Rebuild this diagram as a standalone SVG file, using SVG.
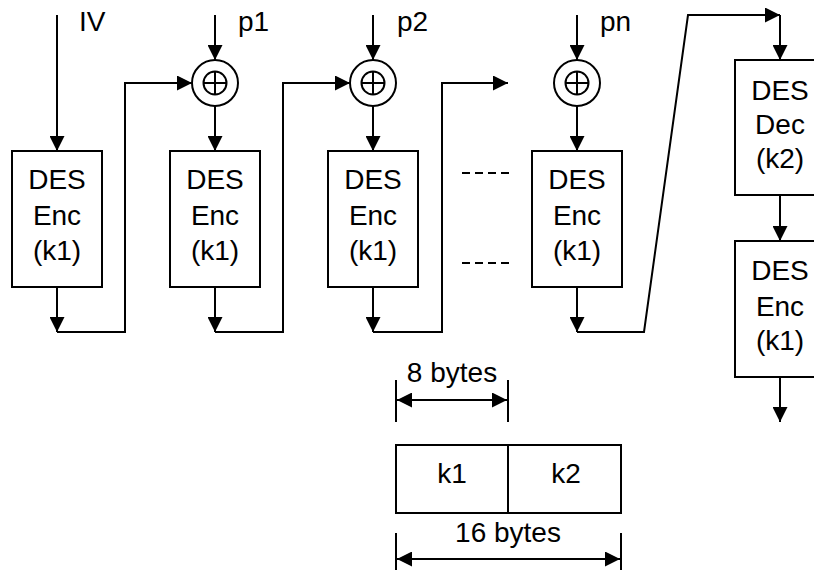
<svg xmlns="http://www.w3.org/2000/svg" width="814" height="577" viewBox="0 0 814 577">
<defs>
<marker id="ah" markerUnits="userSpaceOnUse" markerWidth="16" markerHeight="15" refX="15" refY="7.5" orient="auto-start-reverse" viewBox="0 0 16 15">
<path d="M0,0 L15,7.5 L0,15 Z" fill="#000"/>
</marker>
</defs>
<style>
.bx{fill:#fff;stroke:#000;stroke-width:2}
.ln{fill:none;stroke:#000;stroke-width:2}
.ar{fill:none;stroke:#000;stroke-width:2;marker-end:url(#ah)}
.dar{fill:none;stroke:#000;stroke-width:2;marker-start:url(#ah);marker-end:url(#ah)}
.dash{fill:none;stroke:#000;stroke-width:2;stroke-dasharray:8 5}
.xo{fill:#fff;stroke:#000;stroke-width:2}
text{font-family:"Liberation Sans",Arial,sans-serif;font-size:28px;fill:#000}
.c{text-anchor:middle}
</style>
<rect width="814" height="577" fill="#fff"/>

<g id="connectors">
<line class="ar" x1="57" y1="15" x2="57" y2="151"/>
<line class="ar" x1="215" y1="15" x2="215" y2="60"/>
<line class="ar" x1="373" y1="15" x2="373" y2="60"/>
<line class="ar" x1="577" y1="15" x2="577" y2="60"/>
<line class="ar" x1="215" y1="106" x2="215" y2="151"/>
<line class="ar" x1="373" y1="106" x2="373" y2="151"/>
<line class="ar" x1="577" y1="106" x2="577" y2="151"/>
<line class="ar" x1="57" y1="287" x2="57" y2="332"/>
<line class="ar" x1="215" y1="287" x2="215" y2="332"/>
<line class="ar" x1="373" y1="287" x2="373" y2="332"/>
<line class="ar" x1="577" y1="287" x2="577" y2="332"/>
<polyline class="ar" points="57,332 125,332 125,83 192,83"/>
<polyline class="ar" points="215,332 283,332 283,83 350,83"/>
<polyline class="ar" points="373,332 442,332 442,83 508,83"/>
<polyline class="ar" points="577,332 644,332 688,15 780,15"/>
<line class="ar" x1="780" y1="15" x2="780" y2="60"/>
<line class="ar" x1="780" y1="195" x2="780" y2="241"/>
<line class="ar" x1="780" y1="377" x2="780" y2="422"/>
<line class="dash" x1="462" y1="173" x2="509" y2="173"/>
<line class="dash" x1="462" y1="263" x2="509" y2="263"/>
<line class="ln" x1="396" y1="380" x2="396" y2="422"/>
<line class="ln" x1="508" y1="380" x2="508" y2="422"/>
<line class="dar" x1="397" y1="400" x2="507" y2="400"/>
<line class="ln" x1="396" y1="533" x2="396" y2="570"/>
<line class="ln" x1="621" y1="533" x2="621" y2="570"/>
<line class="dar" x1="397" y1="559" x2="620" y2="559"/>
</g>

<g id="labels">
<text x="79" y="31">IV</text>
<text x="238" y="31">p1</text>
<text x="397" y="31">p2</text>
<text x="600" y="31">pn</text>
<text class="c" x="452" y="382">8 bytes</text>
<text class="c" x="508" y="542">16 bytes</text>
</g>

<g id="xor1">
<circle class="xo" cx="215" cy="83" r="23"/>
<circle class="xo" cx="215" cy="83" r="11.5"/>
<path class="ln" d="M203.5,83 H226.5 M215,71.5 V94.5"/>
</g>
<g id="xor2">
<circle class="xo" cx="373" cy="83" r="23"/>
<circle class="xo" cx="373" cy="83" r="11.5"/>
<path class="ln" d="M361.5,83 H384.5 M373,71.5 V94.5"/>
</g>
<g id="xorn">
<circle class="xo" cx="577" cy="83" r="23"/>
<circle class="xo" cx="577" cy="83" r="11.5"/>
<path class="ln" d="M565.5,83 H588.5 M577,71.5 V94.5"/>
</g>

<g id="enc1">
<rect class="bx" x="12" y="151" width="90" height="136"/>
<text class="c" x="57" y="189">DES</text>
<text class="c" x="57" y="225">Enc</text>
<text class="c" x="57" y="260">(k1)</text>
</g>
<g id="enc2">
<rect class="bx" x="170" y="151" width="90" height="136"/>
<text class="c" x="215" y="189">DES</text>
<text class="c" x="215" y="225">Enc</text>
<text class="c" x="215" y="260">(k1)</text>
</g>
<g id="enc3">
<rect class="bx" x="328" y="151" width="90" height="136"/>
<text class="c" x="373" y="189">DES</text>
<text class="c" x="373" y="225">Enc</text>
<text class="c" x="373" y="260">(k1)</text>
</g>
<g id="encn">
<rect class="bx" x="532" y="151" width="90" height="136"/>
<text class="c" x="577" y="189">DES</text>
<text class="c" x="577" y="225">Enc</text>
<text class="c" x="577" y="260">(k1)</text>
</g>
<g id="dec">
<rect class="bx" x="735" y="60" width="90" height="135"/>
<text class="c" x="780" y="100">DES</text>
<text class="c" x="780" y="134">Dec</text>
<text class="c" x="780" y="168">(k2)</text>
</g>
<g id="enc_final">
<rect class="bx" x="735" y="241" width="90" height="136"/>
<text class="c" x="780" y="280">DES</text>
<text class="c" x="780" y="316">Enc</text>
<text class="c" x="780" y="350">(k1)</text>
</g>

<g id="key">
<rect class="bx" x="396" y="445" width="225" height="68"/>
<line class="ln" x1="508" y1="445" x2="508" y2="513"/>
<text class="c" x="452" y="483">k1</text>
<text class="c" x="566" y="483">k2</text>
</g>
</svg>
